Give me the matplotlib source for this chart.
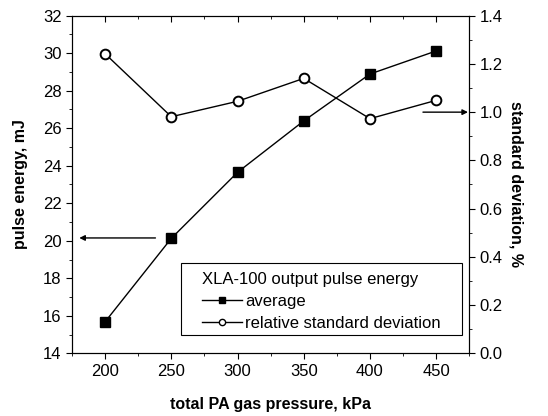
import matplotlib
matplotlib.use("Agg")
import matplotlib.pyplot as plt
from matplotlib.ticker import MultipleLocator, FormatStrFormatter
from matplotlib.lines import Line2D
from matplotlib.patches import Rectangle

plt.rcParams['font.family'] = ['Liberation Sans', 'DejaVu Sans']

pressure = [200, 250, 300, 350, 400, 450]
avg_energy = [15.68, 20.13, 23.65, 26.39, 28.89, 30.12]
rel_std = [1.242, 0.981, 1.045, 1.140, 0.973, 1.049]

fig = plt.figure(figsize=(5.48, 4.16), dpi=100)
ax = fig.add_axes([0.1314, 0.1507, 0.725, 0.8116])
ax2 = ax.twinx()

ax.plot(pressure, avg_energy, color='black', lw=1.0, marker='s', ms=7,
        mfc='black', mec='black', zorder=3)
ax2.plot(pressure, rel_std, color='black', lw=1.0, marker='o', ms=7,
         mfc='white', mec='black', mew=1.4, zorder=3)

ax.set_xlim(175, 475)
ax.set_ylim(14, 32)
ax2.set_ylim(0, 1.4)

ax.xaxis.set_major_locator(MultipleLocator(50))
ax.xaxis.set_minor_locator(MultipleLocator(25))
ax.yaxis.set_major_locator(MultipleLocator(2))
ax.yaxis.set_minor_locator(MultipleLocator(1))
ax2.yaxis.set_major_locator(MultipleLocator(0.2))
ax2.yaxis.set_minor_locator(MultipleLocator(0.1))
ax2.yaxis.set_major_formatter(FormatStrFormatter('%.1f'))

ax.tick_params(axis='x', which='both', direction='out', top=False, labelsize=12)
ax.tick_params(axis='x', which='major', length=4)
ax.tick_params(axis='x', which='minor', length=2.5)
ax.tick_params(axis='y', which='major', direction='out', length=4, labelsize=12)
ax.tick_params(axis='y', which='minor', direction='out', length=2.5)
ax2.tick_params(axis='y', which='major', direction='out', length=4, labelsize=12)
ax2.tick_params(axis='y', which='minor', direction='out', length=2.5)

# top ticks inward
secx = ax.secondary_xaxis('top')
secx.xaxis.set_major_locator(MultipleLocator(50))
secx.xaxis.set_minor_locator(MultipleLocator(25))
secx.tick_params(axis='x', which='major', direction='in', length=4, labeltop=False)
secx.tick_params(axis='x', which='minor', direction='in', length=2.5)
secx.spines['top'].set_visible(False)

ax.set_xlabel('total PA gas pressure, kPa', fontsize=11.5, fontweight='bold', labelpad=13)
ax.set_ylabel('pulse energy, mJ', fontsize=11.5, fontweight='bold', labelpad=11)
ax2.set_ylabel('standard deviation, %', fontsize=11.5, fontweight='bold',
               rotation=270, labelpad=15)

ax.annotate('', xy=(180.5, 20.15), xytext=(238, 20.15),
            arrowprops=dict(arrowstyle='-|>', color='black', lw=1.0,
                            mutation_scale=8, shrinkA=0, shrinkB=0))
ax2.annotate('', xy=(474, 1.0), xytext=(440, 1.0),
             arrowprops=dict(arrowstyle='-|>', color='black', lw=1.0,
                             mutation_scale=8, shrinkA=0, shrinkB=0))

# legend frame
ax2.add_patch(Rectangle((0.2744, 0.0542), 0.9816 - 0.2744, 0.2675 - 0.0542,
                        transform=ax2.transAxes, fill=True, facecolor='white',
                        edgecolor='black', lw=0.8, zorder=4))

h1 = Line2D([], [], color='black', lw=1.0, marker='s', ms=4.5, mfc='black', mec='black')
h2 = Line2D([], [], color='black', lw=1.0, marker='o', ms=4.5, mfc='white', mec='black')
leg = ax2.legend([h1, h2], ['average', 'relative standard deviation'],
                 title='XLA-100 output pulse energy', title_fontsize=12,
                 fontsize=12, loc='upper left', bbox_to_anchor=(0.3265, 0.241),
                 frameon=False, handlelength=2.4, handletextpad=0.2,
                 borderpad=0, borderaxespad=0, labelspacing=0.42,
                 alignment='left')
leg.set_zorder(5)

fig.savefig('out.png', dpi=100)
